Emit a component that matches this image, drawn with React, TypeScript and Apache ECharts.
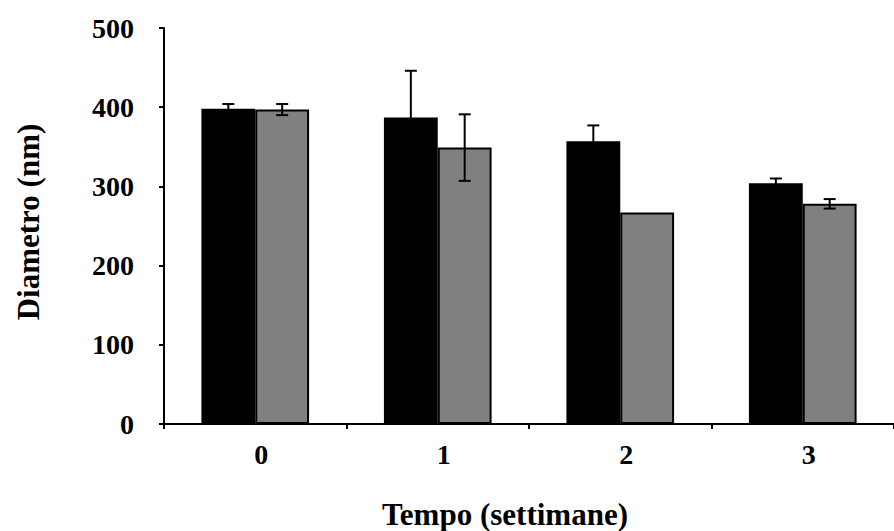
import React, { useEffect, useRef } from "react";
import * as echarts from "echarts";

const categories = ["0", "1", "2", "3"];
const blackValues = [398, 387, 357, 304];
const blackErrors = [6, 59, 20, 6];
const grayValues = [397, 349, 267, 278];
const grayErrors = [7, 42, 0, 6];
const yTicks = { min: 0, max: 500, interval: 100 };

const FONT = "'Liberation Serif', 'Times New Roman', serif";
const GAP = 0.41;

function errorSeries(values: number[], errors: number[], side: number) {
  return {
    type: "custom",
    clip: false,
    z: 5,
    data: values.map((v, i) => [i, v, errors[i]]),
    renderItem: (params: any, api: any) => {
      const x = api.value(0);
      const v = api.value(1);
      const e = api.value(2);
      if (!e) return null;
      const band = api.size([1, 0])[0];
      const bw = (band * (1 - GAP)) / 2;
      const off = (side * bw) / 2;
      const top = api.coord([x, v + e]);
      const bot = api.coord([x, v - e]);
      const cx = top[0] + off;
      const cap = 6;
      const style = { stroke: "#000", lineWidth: 2 };
      return {
        type: "group",
        children: [
          { type: "line", shape: { x1: cx, y1: top[1], x2: cx, y2: bot[1] }, style },
          { type: "line", shape: { x1: cx - cap, y1: top[1], x2: cx + cap, y2: top[1] }, style },
          { type: "line", shape: { x1: cx - cap, y1: bot[1], x2: cx + cap, y2: bot[1] }, style },
        ],
      };
    },
  };
}

export default function App() {
  const ref = useRef<HTMLDivElement>(null);
  useEffect(() => {
    document.body.style.margin = "0";
    const chart = echarts.init(ref.current!, null, { renderer: "svg" });
    chart.setOption({
      animation: false,
      backgroundColor: "#fff",
      grid: { left: 164, right: -10, top: 28, bottom: 107 },
      xAxis: {
        type: "category",
        data: categories,
        axisLine: { lineStyle: { color: "#000", width: 2 } },
        axisTick: { show: true, length: 5, lineStyle: { color: "#000", width: 2 } },
        axisLabel: {
          color: "#000",
          fontFamily: FONT,
          fontWeight: "bold",
          fontSize: 28,
          margin: 16,
          padding: [0, 0, 0, 12],
        },
      },
      yAxis: {
        type: "value",
        min: yTicks.min,
        max: yTicks.max,
        interval: yTicks.interval,
        splitLine: { show: false },
        axisLine: { show: true, lineStyle: { color: "#000", width: 2 } },
        axisTick: { show: true, length: 5, lineStyle: { color: "#000", width: 2 } },
        axisLabel: {
          color: "#000",
          fontFamily: FONT,
          fontWeight: "bold",
          fontSize: 28,
          margin: 30,
        },
      },
      graphic: [
        {
          type: "text",
          x: 28,
          y: 222,
          rotation: Math.PI / 2,
          style: {
            text: "Diametro (nm)",
            font: `bold 31px ${FONT}`,
            fill: "#000",
            align: "center",
            verticalAlign: "middle",
          },
        },
        {
          type: "text",
          x: 505,
          y: 514,
          style: {
            text: "Tempo (settimane)",
            font: `bold 31px ${FONT}`,
            fill: "#000",
            align: "center",
            verticalAlign: "middle",
          },
        },
      ],
      series: [
        {
          type: "bar",
          data: blackValues,
          barGap: "0%",
          barCategoryGap: "41%",
          itemStyle: { color: "#000", borderColor: "#000", borderWidth: 2 },
        },
        {
          type: "bar",
          data: grayValues,
          barGap: "0%",
          barCategoryGap: "41%",
          itemStyle: { color: "#808080", borderColor: "#000", borderWidth: 2 },
        },
        errorSeries(blackValues, blackErrors, -1),
        errorSeries(grayValues, grayErrors, 1),
      ],
    });
    return () => chart.dispose();
  }, []);
  return <div ref={ref} style={{ width: 894, height: 531 }} />;
}
